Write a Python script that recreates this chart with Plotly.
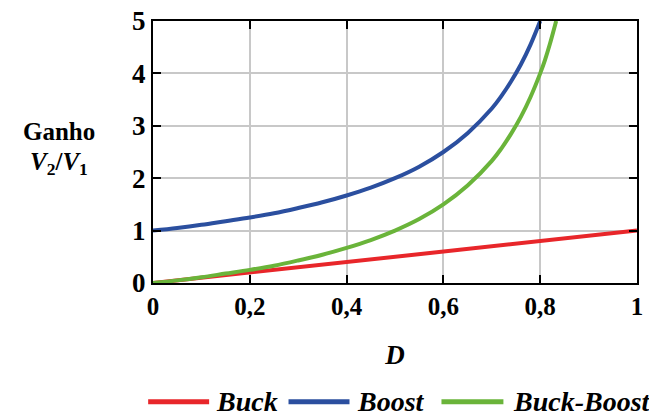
import plotly.graph_objects as go

# Duty cycle D and the static voltage gain of each converter
d_buck = [0.0, 0.2, 0.4, 0.6, 0.8, 1.0]
gain_buck = [0.0, 0.2, 0.4, 0.6, 0.8, 1.0]

d_boost = [0.0, 0.05, 0.1, 0.15, 0.2, 0.25, 0.3, 0.35, 0.4, 0.45, 0.5,
           0.55, 0.6, 0.65, 0.7, 0.72, 0.74, 0.76, 0.78, 0.8]
gain_boost = [1.0, 1.05, 1.11, 1.18, 1.25, 1.33, 1.43, 1.54, 1.67, 1.82, 2.0,
              2.22, 2.5, 2.86, 3.33, 3.57, 3.85, 4.17, 4.55, 5.0]

d_buckboost = [0.0, 0.05, 0.1, 0.15, 0.2, 0.25, 0.3, 0.35, 0.4, 0.45, 0.5,
               0.55, 0.6, 0.65, 0.7, 0.72, 0.74, 0.76, 0.78, 0.8, 0.81, 0.82, 0.833]
gain_buckboost = [0.0, 0.05, 0.11, 0.18, 0.25, 0.33, 0.43, 0.54, 0.67, 0.82, 1.0,
                  1.22, 1.5, 1.86, 2.33, 2.57, 2.85, 3.17, 3.55, 4.0, 4.26, 4.56, 5.0]

series_names = ["Buck", "Boost", "Buck-Boost"]
series_colors = ["#e8262a", "#2b4f9f", "#6ab43a"]

x_ticks = [0, 0.2, 0.4, 0.6, 0.8, 1]
x_labels = ["0", "0,2", "0,4", "0,6", "0,8", "1"]
y_ticks = [0, 1, 2, 3, 4, 5]

serif = "Liberation Serif, Times New Roman, serif"

fig = go.Figure()
curves = [(d_buck, gain_buck, "linear"),
          (d_boost, gain_boost, "spline"),
          (d_buckboost, gain_buckboost, "spline")]
for (xs, ys, shape), name, color in zip(curves, series_names, series_colors):
    fig.add_trace(go.Scatter(x=xs, y=ys, mode="lines", name=name,
                             line=dict(color=color, width=4, shape=shape)))

fig.update_layout(
    width=649, height=417,
    margin=dict(l=153, r=6, t=18, b=134),
    paper_bgcolor="white", plot_bgcolor="white",
    font=dict(family=serif, color="black"),
    showlegend=False,
)
fig.update_xaxes(
    range=[0, 1], tickvals=x_ticks, ticktext=[f"<b>{t}</b>" for t in x_labels],
    tickfont=dict(family=serif, size=25), ticks="inside", ticklen=8,
    tickwidth=2, tickcolor="black", showline=True, linecolor="black",
    linewidth=2, mirror="ticks", showgrid=True, gridcolor="#c8c8c8",
    gridwidth=2, zeroline=False,
    title=dict(text="<b><i>D</i></b>", font=dict(family=serif, size=27), standoff=26),
)
fig.update_yaxes(
    range=[0, 5], tickvals=y_ticks, ticktext=[f"<b>{t}</b>" for t in y_ticks],
    tickfont=dict(family=serif, size=27), ticks="inside", ticklen=8,
    tickwidth=2, tickcolor="black", showline=True, linecolor="black",
    linewidth=2, mirror="ticks", showgrid=True, gridcolor="#c8c8c8",
    gridwidth=2, zeroline=False,
)

# y-axis caption on the left, two stacked lines
fig.add_annotation(text="<b>Ganho</b>", xref="paper", yref="paper",
                   x=-0.195, y=0.578, xanchor="center", yanchor="middle",
                   showarrow=False, font=dict(family=serif, size=25))
fig.add_annotation(text="<b><i>V</i><sub>2</sub>/<i>V</i><sub>1</sub></b>",
                   xref="paper", yref="paper", x=-0.195, y=0.455,
                   xanchor="center", yanchor="middle", showarrow=False,
                   font=dict(family=serif, size=25))

# legend row below the x-axis title: long line swatch followed by the name
legend_y = -0.453
legend_slots = [(-0.010, 0.116, 0.127), (0.280, 0.406, 0.418), (0.596, 0.724, 0.739)]
for (x0, x1, xt), name, color in zip(legend_slots, series_names, series_colors):
    fig.add_shape(type="line", xref="paper", yref="paper",
                  x0=x0, x1=x1, y0=legend_y, y1=legend_y,
                  line=dict(color=color, width=5))
    fig.add_annotation(text=f"<b><i>{name}</i></b>", xref="paper", yref="paper",
                       x=xt, y=legend_y, xanchor="left", yanchor="middle",
                       showarrow=False, font=dict(family=serif, size=28))

fig.write_html("out.html")
